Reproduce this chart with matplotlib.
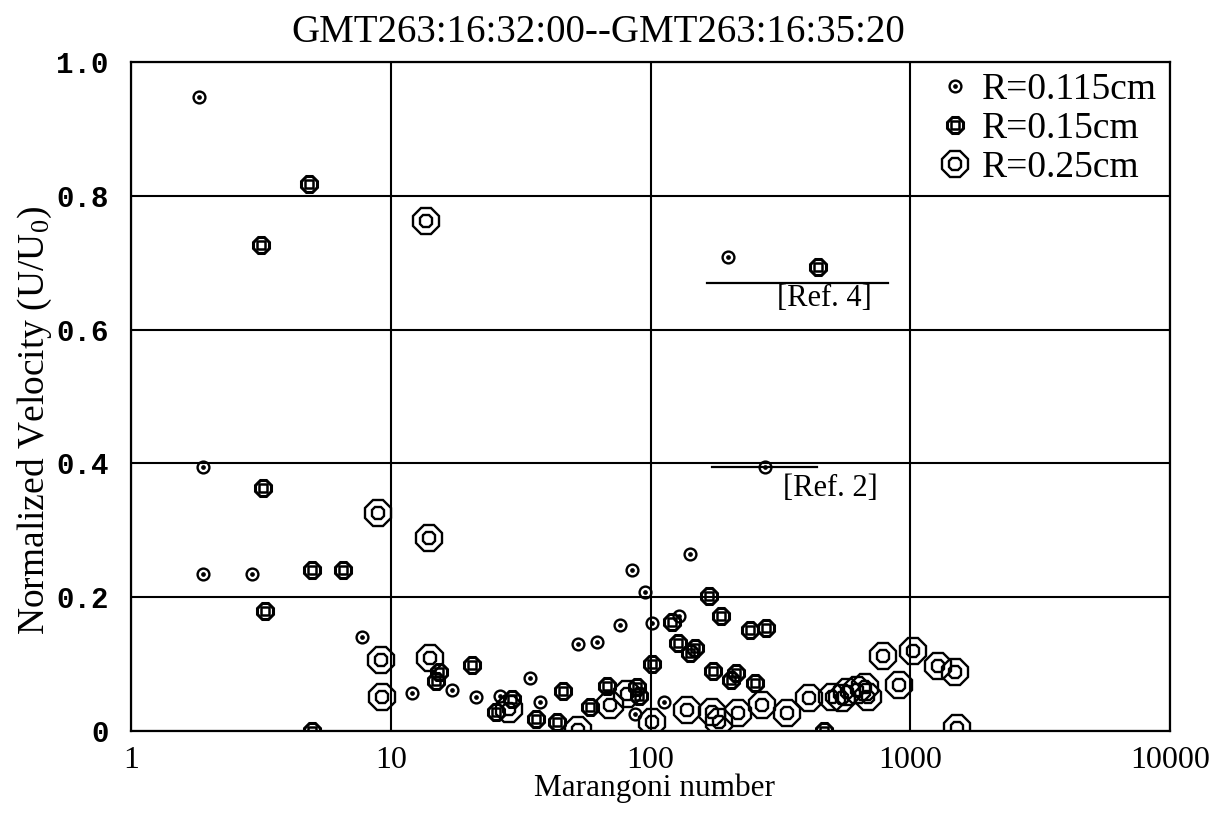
import matplotlib
matplotlib.use("Agg")
import matplotlib.pyplot as plt
from matplotlib.legend_handler import HandlerTuple

plt.rcParams['mathtext.fontset'] = 'custom'
plt.rcParams['mathtext.rm'] = 'Liberation Serif'
plt.rcParams['mathtext.it'] = 'Liberation Serif:italic'

title = "GMT263:16:32:00--GMT263:16:35:20"
xlabel = "Marangoni number"
ylabel = r"Normalized Velocity (U/U$_{\mathrm{0}}$)"
labels = ["R=0.115cm", "R=0.15cm", "R=0.25cm"]
xticks = [1, 10, 100, 1000, 10000]
xticklabels = ["1", "10", "100", "1000", "10000"]
yticks = [0, 0.2, 0.4, 0.6, 0.8, 1.0]
yticklabels = ["0", "0.2", "0.4", "0.6", "0.8", "1.0"]

# R = 0.115 cm
x_small = [1.83, 1.89, 1.89, 2.92, 7.75, 12.1, 17.2, 21.3, 26.4, 34.3, 37.6, 52.6, 62.3,
           76.4, 85, 87.5, 95, 101, 113, 129, 142, 199, 276]
y_small = [0.948, 0.395, 0.235, 0.235, 0.141, 0.057, 0.061, 0.051, 0.053, 0.079, 0.044, 0.130, 0.133,
           0.159, 0.241, 0.025, 0.208, 0.162, 0.043, 0.172, 0.265, 0.708, 0.395]

# R = 0.15 cm
x_med = [3.17, 4.85, 3.22, 3.28, 4.98, 6.55, 4.98, 15.0, 15.4, 20.6, 29.3, 25.4, 36.3, 43.7,
         46, 58.5, 68, 89, 90, 101, 121, 128, 142, 148, 168, 174, 187, 204, 214, 242, 253,
         279, 442, 466]
y_med = [0.727, 0.818, 0.363, 0.180, 0.241, 0.241, 0.0, 0.075, 0.088, 0.098, 0.048, 0.029, 0.018, 0.014,
         0.060, 0.036, 0.068, 0.066, 0.052, 0.100, 0.163, 0.132, 0.117, 0.124, 0.202, 0.090, 0.172, 0.076,
         0.087, 0.151, 0.072, 0.154, 0.693, 0.0]

# R = 0.25 cm
x_large = [13.7, 8.93, 14.0, 9.18, 9.25, 14.2, 28.6, 52.6, 69.9, 81, 101, 138, 173, 184, 217,
           269, 336, 408, 500, 547, 570, 622, 670, 686, 787, 906, 1026, 1280, 1489, 1510]
y_large = [0.763, 0.326, 0.289, 0.106, 0.051, 0.109, 0.033, 0.002, 0.039, 0.056, 0.013, 0.031, 0.028,
           0.013, 0.027, 0.039, 0.027, 0.050, 0.051, 0.050, 0.058, 0.061, 0.066, 0.051, 0.112, 0.069,
           0.120, 0.097, 0.088, 0.004]

# Reference lines
ref4_x = [165, 822]
ref4_y = [0.669, 0.669]
ref2_x = [173, 438]
ref2_y = [0.395, 0.395]
ref4_label = "[Ref. 4]"
ref2_label = "[Ref. 2]"
ref4_pos = (307, 0.647)
ref2_pos = (324, 0.363)

serif = "Liberation Serif"

fig = plt.figure(figsize=(12.11, 8.15), dpi=100)
ax = fig.add_axes([131/1211, 1-731/815, (1170-131)/1211, (731-62)/815])
ax.set_xscale('log')
ax.set_xlim(1, 10000)
ax.set_ylim(0, 1.0)

for s in ax.spines.values():
    s.set_linewidth(1.6)
    s.set_color('black')

ax.set_xticks(xticks)
ax.set_xticklabels(xticklabels, fontfamily=serif, fontsize=23)
ax.set_yticks(yticks)
ax.set_yticklabels(yticklabels, fontfamily="Liberation Mono", fontweight='bold', fontsize=21)
ax.minorticks_off()
ax.tick_params(axis='both', length=0)
ax.tick_params(axis='x', pad=11)
ax.tick_params(axis='y', pad=16)
ax.grid(True, which='major', color='black', linewidth=1.5)
ax.set_axisbelow(True)

lw = 1.7
# small markers
h1a, = ax.plot(x_small, y_small, ls='none', marker='o', ms=8.5, mfc='none', mec='black', mew=lw)
h1b, = ax.plot(x_small, y_small, ls='none', marker='o', ms=2.8, mfc='black', mec='black', mew=0.5)
# medium markers
h2a, = ax.plot(x_med, y_med, ls='none', marker='8', ms=13, mfc='none', mec='black', mew=2.2)
h2b, = ax.plot(x_med, y_med, ls='none', marker='s', ms=5.5, mfc='none', mec='black', mew=1.8)
# large markers
h3a, = ax.plot(x_large, y_large, ls='none', marker='8', ms=20, mfc='none', mec='black', mew=lw)
h3b, = ax.plot(x_large, y_large, ls='none', marker='8', ms=10, mfc='none', mec='black', mew=lw)

ax.plot(ref4_x, ref4_y, color='black', lw=1.6)
ax.plot(ref2_x, ref2_y, color='black', lw=1.6)
ax.text(ref4_pos[0], ref4_pos[1], ref4_label, fontfamily=serif, fontsize=22, va='center', ha='left')
ax.text(ref2_pos[0], ref2_pos[1], ref2_label, fontfamily=serif, fontsize=22, va='center', ha='left')

leg = ax.legend([(h1a, h1b), (h2a, h2b), (h3a, h3b)], labels,
                handler_map={tuple: HandlerTuple(ndivide=1)},
                loc='center', bbox_to_anchor=(0.758, 0.8, 0.25, 0.2),
                frameon=False, prop={'family': serif, 'size': 27},
                handlelength=0.8, handletextpad=0.3, labelspacing=0.12, borderpad=0.1)

fig.text(598/1211, 1-33/815, title, fontfamily=serif, fontsize=28, ha='center', va='center')
fig.text(655/1211, 1-788/815, xlabel, fontfamily=serif, fontsize=22.5, ha='center', va='center')
fig.text(35/1211, 1-420/815, ylabel, fontfamily=serif, fontsize=27, ha='center', va='center', rotation=90)

fig.savefig("out.png", dpi=100)
